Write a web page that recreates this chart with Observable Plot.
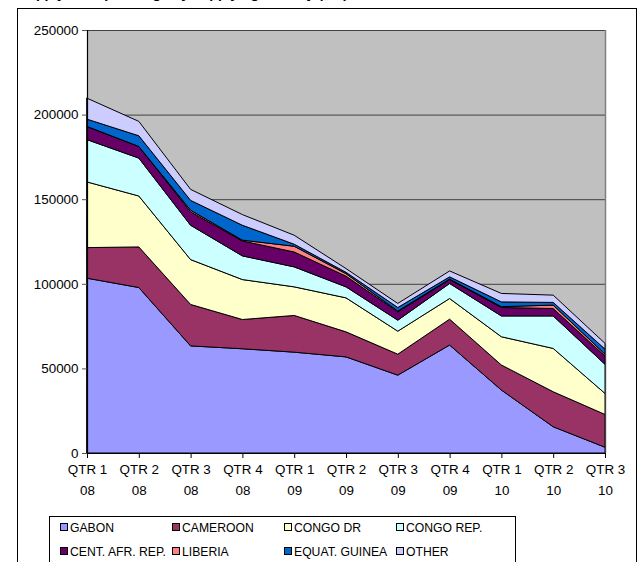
<!DOCTYPE html>
<html><head><meta charset="utf-8">
<script src="https://cdn.jsdelivr.net/npm/d3@7"></script>
<script src="https://cdn.jsdelivr.net/npm/@observablehq/plot@0.6"></script>
<style>
body{margin:0;background:#fff;overflow:hidden;font-family:Arial,"Liberation Sans",sans-serif;}
#wrap{position:relative;width:638px;height:562px;overflow:hidden;background:#fff;}
#chart{position:absolute;left:0;top:0;}
#frame{position:absolute;left:17px;top:8px;width:620px;height:620px;border:1px solid #000;box-sizing:border-box;pointer-events:none;}
#title{position:absolute;left:18px;top:-15px;font-weight:bold;font-size:14px;line-height:16px;white-space:nowrap;color:#000;}
#legend{position:absolute;left:49px;top:516px;width:467px;height:70px;border:1px solid #000;box-sizing:border-box;background:#fff;font-size:12.2px;color:#000;}
.item{position:absolute;white-space:nowrap;line-height:14px;}
.key{display:inline-block;width:6px;height:6px;border:1px solid #000;margin-right:2px;vertical-align:1px;}
</style>
</head><body>
<div id="wrap">
  <div id="title">Supply of tropical logs by supplying country (m3)</div>
  <div id="chart"></div>
  <div id="frame"></div>
  <div id="legend"></div>
</div>
<script>
const quarters = ["QTR 1","QTR 2","QTR 3","QTR 4","QTR 1","QTR 2","QTR 3","QTR 4","QTR 1","QTR 2","QTR 3"];
const years    = ["08","08","08","08","09","09","09","09","10","10","10"];
const seriesNames = ["GABON","CAMEROON","CONGO DR","CONGO REP.","CENT. AFR. REP.","LIBERIA","EQUAT. GUINEA","OTHER"];
const seriesColors = ["#9999FF","#993366","#FFFFCC","#CCFFFF","#660066","#FF8080","#0066CC","#CCCCFF"];

const gabon       = [103300, 97800, 63300, 61600, 59600, 56800, 46000, 63800, 37200, 15500, 3400];
const cameroon    = [18100, 24000, 24500, 17300, 21700, 14800, 12400, 15300, 14800, 20700, 19400];
const congoDR     = [38800, 30100, 26500, 23600, 16900, 20100, 13600, 12200, 16700, 25600, 12400];
const congoRep    = [25000, 22400, 20300, 14000, 11800, 6500, 6500, 8900, 12300, 19200, 17200];
const centAfrRep  = [7800, 6900, 7900, 8800, 8800, 6300, 4900, 2300, 5000, 4400, 4900];
const liberia     = [0, 0, 1000, 500, 3400, 1500, 500, 300, 500, 2000, 1100];
const equatGuinea = [4300, 6300, 5800, 8800, 1200, 800, 2100, 1300, 2800, 1600, 3000];
const other       = [12400, 8500, 6500, 6300, 5300, 2200, 2400, 3500, 5000, 4300, 3400];

const yTicks = [0, 50000, 100000, 150000, 200000, 250000];

const seriesValues = [gabon, cameroon, congoDR, congoRep, centAfrRep, liberia, equatGuinea, other];
const rows = [];
seriesNames.forEach((s, k) => seriesValues[k].forEach((v, i) => rows.push({i, s, v})));

const chart = Plot.plot({
  width: 638, height: 562,
  marginLeft: 87, marginRight: 33, marginTop: 30, marginBottom: 109,
  style: {background: "transparent", fontFamily: "Arial, 'Liberation Sans', sans-serif", fontSize: "13.4px", color: "#000"},
  x: {type: "linear", domain: [0, 10]},
  y: {domain: [0, 250000]},
  color: {domain: seriesNames, range: seriesColors},
  marks: [
    Plot.frame({fill: "#C0C0C0", stroke: null}),
    Plot.ruleY(yTicks.filter(d => d > 0), {stroke: "#404040", strokeWidth: 1}),
    Plot.ruleX([10], {stroke: "#808080", strokeWidth: 1.5}),
    Plot.areaY(rows, {x: "i", y: "v", fill: "s", z: "s", order: seriesNames, stroke: "#000", strokeWidth: 1, strokeLinejoin: "round"}),
    Plot.ruleX([0], {stroke: "#000", strokeWidth: 1.2}),
    Plot.ruleY([0], {stroke: "#000", strokeWidth: 1.2}),
    Plot.axisY({ticks: yTicks, tickFormat: d => String(d), tickSize: 5, tickPadding: 4, stroke: "#555", fill: "#000", label: null}),
    Plot.axisX({ticks: d3.range(quarters.length), tickFormat: i => quarters[i] + "\n" + years[i], tickSize: 5, tickPadding: 0, lineHeight: 1.6, stroke: "#000", fill: "#000", label: null})
  ]
});
document.getElementById("chart").appendChild(chart);

const legend = document.getElementById("legend");
seriesNames.forEach((s, k) => {
  const col = k % 4, row = Math.floor(k / 4);
  const it = document.createElement("div");
  it.className = "item";
  it.style.left = (10 + col * 112) + "px";
  it.style.top = (4 + row * 24) + "px";
  const key = document.createElement("span");
  key.className = "key";
  key.style.background = seriesColors[k];
  it.appendChild(key);
  it.appendChild(document.createTextNode(s));
  legend.appendChild(it);
});
</script>
</body></html>
